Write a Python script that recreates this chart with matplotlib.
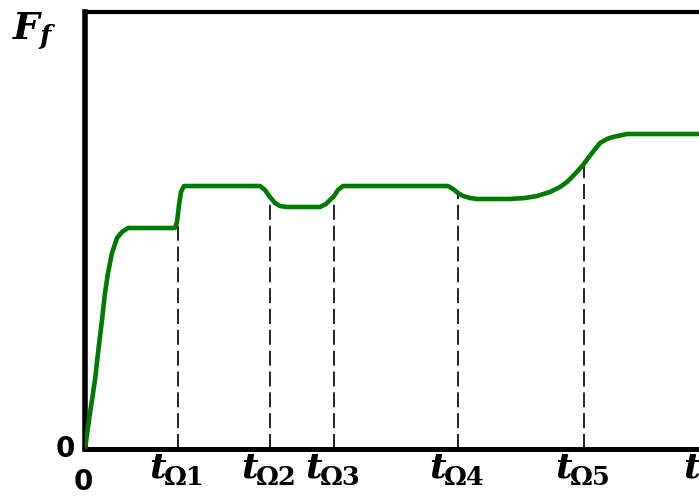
import numpy as np
import matplotlib
matplotlib.use('Agg')
import matplotlib.pyplot as plt
from matplotlib.transforms import offset_copy

# curve of F_f over time (arbitrary units)
t_vals = [0, 0.05, 0.10, 0.13, 0.17, 0.20, 0.23, 0.27, 0.32, 0.37, 0.43, 0.53,
          0.90, 0.92, 0.94, 0.96, 0.99, 1.75, 1.80, 1.85, 1.90, 1.95, 2.02,
          2.35, 2.41, 2.45, 2.49, 2.53, 2.58, 3.63, 3.68, 3.73, 3.78, 3.85,
          3.92, 4.25, 4.40, 4.52, 4.65, 4.75, 4.82, 4.90, 4.98, 5.07, 5.15,
          5.22, 5.28, 5.42, 6.14]
f_vals = [0, 0.36, 0.69, 0.96, 1.29, 1.56, 1.76, 1.96, 2.11, 2.17, 2.21, 2.21,
          2.21, 2.27, 2.44, 2.57, 2.63, 2.63, 2.59, 2.52, 2.46, 2.43, 2.42,
          2.42, 2.45, 2.49, 2.53, 2.59, 2.63, 2.63, 2.60, 2.56, 2.53, 2.51,
          2.50, 2.50, 2.51, 2.53, 2.57, 2.62, 2.67, 2.75, 2.84, 2.96, 3.06,
          3.10, 3.12, 3.15, 3.15]

# moments where the speed changes
t_omega = [0.93, 1.85, 2.49, 3.73, 4.99]
t_subs = ['Ω1', 'Ω2', 'Ω3', 'Ω4', 'Ω5']

plt.rcParams['mathtext.fontset'] = 'custom'
plt.rcParams['mathtext.it'] = 'DejaVu Serif:italic:bold'
plt.rcParams['mathtext.rm'] = 'DejaVu Serif:bold'
plt.rcParams['mathtext.bf'] = 'DejaVu Serif:bold'

fig = plt.figure(figsize=(6.99, 5.0), dpi=100)
ax = fig.add_axes([85 / 699, 51 / 500, 614 / 699, 437.5 / 500])

ax.plot(t_vals, f_vals, color='#007a00', lw=3.3, solid_capstyle='round', zorder=3)

for t in t_omega:
    top = np.interp(t, t_vals, f_vals)
    ax.plot([t, t], [0, top], color='black', lw=1.2, ls=(0, (9, 3.5)), zorder=2)

ax.set_xlim(0, 6.14)
ax.set_ylim(0, 4.375)
ax.set_xticks([])
ax.set_yticks([])

ax.spines['right'].set_visible(False)
ax.spines['left'].set_linewidth(4)
ax.spines['bottom'].set_linewidth(3.6)
ax.spines['top'].set_linewidth(3)

# tick labels: italic t with a larger than usual subscript
t_font = dict(family='DejaVu Serif', style='italic', weight='bold', fontsize=26)
sub_font = dict(family='DejaVu Serif', weight='bold', fontsize=18.5)
for t, sub in zip(t_omega, t_subs):
    tr_t = offset_copy(ax.transData, fig=fig, x=-9, units='points')
    ax.text(t, -0.28, 't', transform=tr_t, ha='right', va='baseline', **t_font)
    tr_s = offset_copy(ax.transData, fig=fig, x=-10.5, units='points')
    ax.text(t, -0.36, sub, transform=tr_s, ha='left', va='baseline', **sub_font)
ax.text(6.07, -0.28, 't', ha='center', va='baseline', clip_on=False, **t_font)

ax.text(-0.02, -0.19, '0', fontsize=20, fontweight='bold', ha='center', va='top')
ax.text(-0.20, 0.0, '0', fontsize=20, fontweight='bold', ha='center', va='center')
ax.text(-0.73, 4.38, r'$F_f$', fontsize=27, ha='left', va='top')

fig.savefig('out.png', dpi=100)
